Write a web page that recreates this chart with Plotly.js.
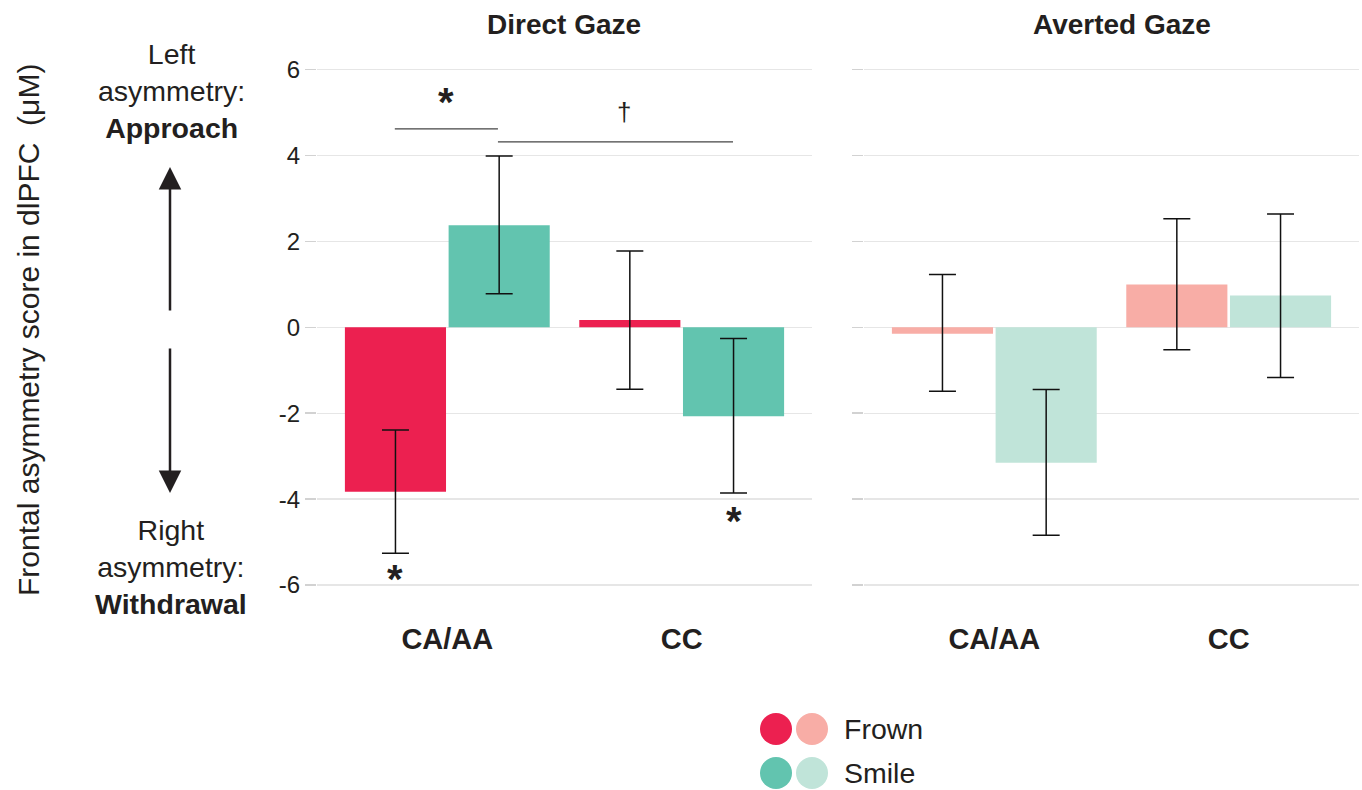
<!DOCTYPE html>
<html>
<head>
<meta charset="utf-8">
<script src="https://cdn.plot.ly/plotly-3.0.1.min.js"></script>
<style>html,body{margin:0;padding:0;background:#fff;}#chart{width:1362px;height:790px;}</style>
</head>
<body>
<div id="chart"></div>
<script>
// ---- data ----
const categories = ['CA/AA', 'CC'];
const seriesNames = ['Frown', 'Smile'];
const panelTitles = ['Direct Gaze', 'Averted Gaze'];

const directFrown   = [-3.83, 0.17];
const directFrownHi = [-2.39, 1.78];
const directFrownLo = [-5.26, -1.44];

const directSmile   = [2.38, -2.07];
const directSmileHi = [3.99, -0.26];
const directSmileLo = [0.78, -3.86];

const avertedFrown   = [-0.15, 1.00];
const avertedFrownHi = [1.23, 2.53];
const avertedFrownLo = [-1.49, -0.52];

const avertedSmile   = [-3.15, 0.74];
const avertedSmileHi = [-1.45, 2.64];
const avertedSmileLo = [-4.84, -1.17];

const yTickVals = [-6, -4, -2, 0, 2, 4, 6];
const yTickLabels = ['-6', '-4', '-2', '0', '2', '4', '6'];

// ---- style ----
const FONT = '"Liberation Sans", Arial, Helvetica, sans-serif';
const TXT = '#231F20';
const colors = {
  directFrown: '#EC2050', directSmile: '#62C4AF',
  avertedFrown: '#F8ADA6', avertedSmile: '#C0E4D9'
};
const W = 1362, H = 790;
const px = x => x / W;
const py = y => 1 - y / H;

function bar(name, vals, hi, lo, color, xa, ya) {
  return {
    type: 'bar', name: name, x: categories, y: vals,
    xaxis: xa, yaxis: ya, marker: {color: color, line: {width: 0}},
    showlegend: false, hoverinfo: 'skip',
    error_y: {
      type: 'data', symmetric: false,
      array: hi.map((h, i) => h - vals[i]),
      arrayminus: lo.map((l, i) => vals[i] - l),
      color: '#111', thickness: 1.5, width: 13.5
    }
  };
}

const data = [
  bar(seriesNames[0], directFrown, directFrownHi, directFrownLo, colors.directFrown, 'x', 'y'),
  bar(seriesNames[1], directSmile, directSmileHi, directSmileLo, colors.directSmile, 'x', 'y'),
  bar(seriesNames[0], avertedFrown, avertedFrownHi, avertedFrownLo, colors.avertedFrown, 'x2', 'y2'),
  bar(seriesNames[1], avertedSmile, avertedSmileHi, avertedSmileLo, colors.avertedSmile, 'x2', 'y2')
];

const xRange = [-0.556, 1.556];
const yRange = [-6.4, 6.3];
const yDomain = [py(602.2), py(56.8)];

const xCommon = {
  range: xRange, type: 'category', showgrid: false, zeroline: false, showline: false,
  ticks: '', tickfont: {family: FONT, size: 29, color: TXT, weight: 'bold'},
  ticklabelstandoff: 17, fixedrange: true
};
const yCommon = {
  range: yRange, domain: yDomain, tickvals: yTickVals, ticktext: yTickLabels,
  showgrid: true, gridcolor: '#E6E6E6', gridwidth: 1.3, zeroline: false, showline: false,
  ticks: 'outside', ticklen: 11, tickcolor: '#D2D2D2', tickwidth: 1.5,
  tickfont: {family: FONT, size: 24, color: TXT}, fixedrange: true
};

const annotations = [
  {text: panelTitles[0], x: px(564), y: py(24), xref: 'paper', yref: 'paper', showarrow: false,
   xanchor: 'center', yanchor: 'middle', font: {family: FONT, size: 28, color: TXT, weight: 'bold'}},
  {text: panelTitles[1], x: px(1122), y: py(24), xref: 'paper', yref: 'paper', showarrow: false,
   xanchor: 'center', yanchor: 'middle', font: {family: FONT, size: 28, color: TXT, weight: 'bold'}},
  {text: 'Frontal asymmetry score in dlPFC  (μM)', x: px(28), y: py(330), xref: 'paper', yref: 'paper',
   showarrow: false, textangle: -90, xanchor: 'center', yanchor: 'middle',
   font: {family: FONT, size: 30, color: TXT}},
  {text: 'Left<br>asymmetry:<br><b>Approach</b>', x: px(171), y: py(91), xref: 'paper', yref: 'paper',
   showarrow: false, align: 'center', xanchor: 'center', yanchor: 'middle',
   font: {family: FONT, size: 28.5, color: TXT}},
  {text: 'Right<br>asymmetry:<br><b>Withdrawal</b>', x: px(171), y: py(567), xref: 'paper', yref: 'paper',
   showarrow: false, align: 'center', xanchor: 'center', yanchor: 'middle',
   font: {family: FONT, size: 28.5, color: TXT}},
  // arrows
  {text: '', x: px(170), y: py(167), xref: 'paper', yref: 'paper', showarrow: true,
   ax: 0, ay: 145, arrowhead: 2, arrowsize: 1.8, arrowwidth: 2.5, arrowcolor: TXT, standoff: 0, startstandoff: 0},
  {text: '', x: px(170), y: py(493), xref: 'paper', yref: 'paper', showarrow: true,
   ax: 0, ay: -146, arrowhead: 2, arrowsize: 1.8, arrowwidth: 2.5, arrowcolor: TXT, standoff: 0, startstandoff: 0},
  // significance marks
  {text: '<b>*</b>', x: -0.006, y: 5.25, xref: 'x', yref: 'y', showarrow: false,
   xanchor: 'center', yanchor: 'middle', font: {family: FONT, size: 40, color: TXT}},
  {text: '†', x: 0.754, y: 5.01, xref: 'x', yref: 'y', showarrow: false,
   xanchor: 'center', yanchor: 'middle', font: {family: FONT, size: 26, color: TXT}},
  {text: '<b>*</b>', x: -0.224, y: -5.85, xref: 'x', yref: 'y', showarrow: false,
   xanchor: 'center', yanchor: 'middle', font: {family: FONT, size: 40, color: TXT}},
  {text: '<b>*</b>', x: 1.224, y: -4.52, xref: 'x', yref: 'y', showarrow: false,
   xanchor: 'center', yanchor: 'middle', font: {family: FONT, size: 40, color: TXT}},
  // legend text
  {text: seriesNames[0], x: px(842), y: py(729), xref: 'paper', yref: 'paper', showarrow: false,
   xanchor: 'left', yanchor: 'middle', font: {family: FONT, size: 28.5, color: TXT}},
  {text: seriesNames[1], x: px(842), y: py(773), xref: 'paper', yref: 'paper', showarrow: false,
   xanchor: 'left', yanchor: 'middle', font: {family: FONT, size: 28.5, color: TXT}}
];

function circle(cx, cy, r, color) {
  return {type: 'circle', xref: 'paper', yref: 'paper',
    x0: px(cx - r), x1: px(cx + r), y0: py(cy + r), y1: py(cy - r),
    fillcolor: color, line: {width: 0}};
}

const shapes = [
  {type: 'line', xref: 'x', yref: 'y', x0: -0.224, x1: 0.216, y0: 4.62, y1: 4.62,
   line: {color: '#444', width: 1.3}},
  {type: 'line', xref: 'x', yref: 'y', x0: 0.216, x1: 1.219, y0: 4.32, y1: 4.32,
   line: {color: '#444', width: 1.3}},
  circle(776, 729, 16, colors.directFrown),
  circle(812, 729, 16, colors.avertedFrown),
  circle(776, 773, 16, colors.directSmile),
  circle(812, 773, 16, colors.avertedSmile)
];

const layout = {
  width: W, height: H,
  margin: {l: 0, r: 0, t: 0, b: 0},
  paper_bgcolor: '#fff', plot_bgcolor: '#fff',
  barmode: 'group', bargap: 0.115, bargroupgap: 0.025,
  showlegend: false,
  font: {family: FONT, color: TXT},
  xaxis: Object.assign({}, xCommon, {domain: [px(317), px(812)], anchor: 'y'}),
  xaxis2: Object.assign({}, xCommon, {domain: [px(864), px(1359)], anchor: 'y2'}),
  yaxis: Object.assign({}, yCommon, {anchor: 'x'}),
  yaxis2: Object.assign({}, yCommon, {anchor: 'x2', showticklabels: false}),
  annotations: annotations,
  shapes: shapes
};

Plotly.newPlot('chart', data, layout, {displayModeBar: false, staticPlot: true});
</script>
</body>
</html>
